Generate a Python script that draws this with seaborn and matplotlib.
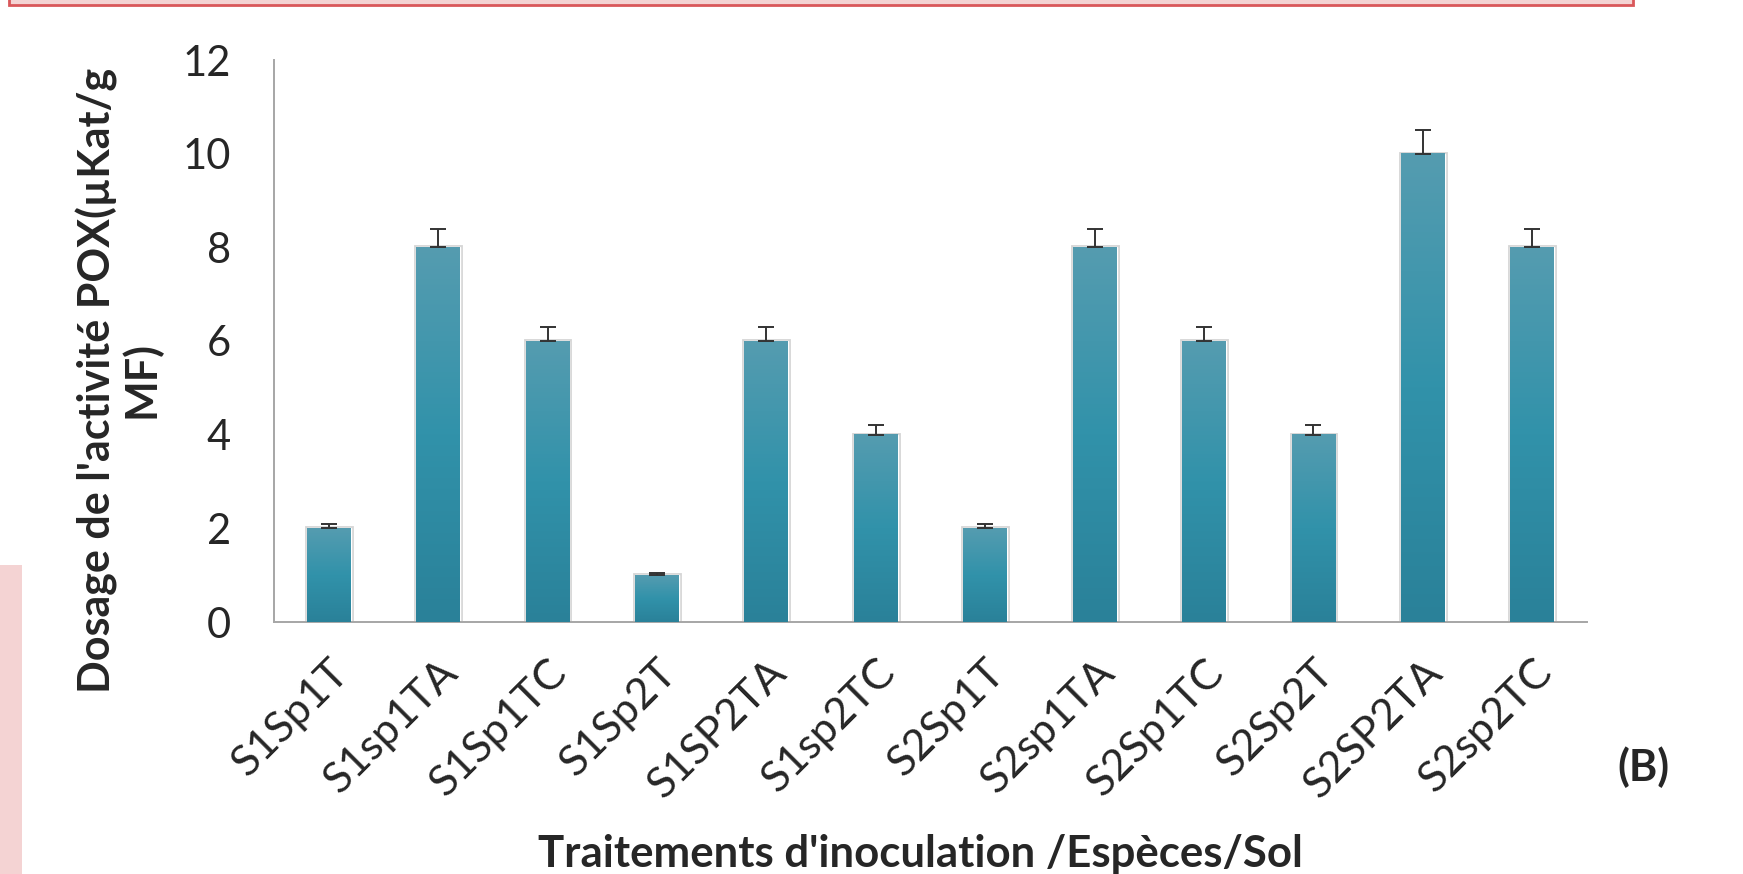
import numpy as np
import pandas as pd
import matplotlib
matplotlib.use('Agg')
import matplotlib.pyplot as plt
import seaborn as sns
from matplotlib.colors import LinearSegmentedColormap
from matplotlib.patches import Rectangle
import matplotlib.patheffects as pe

# données
categories = ['S1Sp1T', 'S1sp1TA', 'S1Sp1TC', 'S1Sp2T', 'S1SP2TA', 'S1sp2TC',
              'S2Sp1T', 'S2sp1TA', 'S2Sp1TC', 'S2Sp2T', 'S2SP2TA', 'S2sp2TC']
pox = [2, 8, 6, 1, 6, 4, 2, 8, 6, 4, 10, 8]
pox_err = [0.1, 0.4, 0.3, 0.05, 0.3, 0.2, 0.1, 0.4, 0.3, 0.2, 0.5, 0.4]
y_ticks = [0, 2, 4, 6, 8, 10, 12]

df = pd.DataFrame({'traitement': categories, 'pox': pox, 'err': pox_err})

sns.set_style('white')
plt.rcParams['font.family'] = ['Lato', 'DejaVu Sans']

fig = plt.figure(figsize=(17.43, 8.74), dpi=100)
ax = fig.add_axes([274 / 1743, 1 - 622 / 874, 1313 / 1743, 562 / 874])

sns.barplot(data=df, x='traitement', y='pox', color='#3192aa', width=0.40,
            errorbar=None, ax=ax, zorder=2)

# dégradé vertical façon Excel + ombre légère
cmap = LinearSegmentedColormap.from_list('bar', ['#2a8199', '#3192aa', '#559cb0'])
grad = np.linspace(0, 1, 256).reshape(-1, 1)
for p in ax.patches:
    x0, w, h = p.get_x(), p.get_width(), p.get_height()
    p.set_path_effects([pe.Stroke(linewidth=3.5, foreground='#7a7a7a', alpha=0.3), pe.Normal()])
    ax.imshow(grad, cmap=cmap, origin='lower', aspect='auto',
              extent=(x0, x0 + w, 0, h), zorder=3)

ax.errorbar(np.arange(len(pox)), df['pox'], yerr=[np.zeros(len(pox)), df['err']],
            fmt='none', ecolor='#333333', elinewidth=1.4, capsize=6, capthick=1.4, zorder=4)

ax.set_xlim(-0.5, len(categories) - 0.5)
ax.set_ylim(0, 12)
ax.set_yticks(y_ticks)
ax.set_xticks(np.arange(len(categories) + 1) - 0.5, minor=False)
ax.set_xticklabels([])
ax.set_xticks(np.arange(len(categories)), minor=True)
ax.set_xticklabels(categories, minor=True, rotation=45, ha='right', va='top',
                   rotation_mode='anchor', fontsize=31)
ax.tick_params(axis='x', which='minor', length=0, pad=22)
ax.tick_params(axis='x', which='major', length=15, width=1.4, color='#a6a6a6', direction='out')
ax.tick_params(axis='y', length=15, width=1.4, color='#a6a6a6', direction='out',
               labelsize=30, pad=16)
ax.set_xlabel('')
ax.set_ylabel('')
sns.despine(ax=ax)
for s in ['left', 'bottom']:
    ax.spines[s].set_color('#a6a6a6')
    ax.spines[s].set_linewidth(1.4)

fig.text(119 / 1743, 1 - 380 / 874, "Dosage de l'activité POX(µKat/g\nMF)",
         rotation=90, ha='center', va='center', multialignment='center',
         fontsize=31, fontweight='bold', linespacing=1.05)
fig.text(920 / 1743, 1 - 854 / 874, "Traitements d'inoculation /Espèces/Sol",
         ha='center', va='center', fontsize=31.5, fontweight='bold')
fig.text(1643 / 1743, 1 - 767 / 874, '(B)', ha='center', va='center',
         fontsize=31, fontweight='bold')

# éléments de la page autour du graphique
fig.patches.append(Rectangle((9 / 1743, 1 - 5 / 874), 1624 / 1743, 0.05, transform=fig.transFigure,
                             facecolor='#f4d3d3', edgecolor='#d9575a', linewidth=2))
fig.patches.append(Rectangle((0, 0), 22 / 1743, 1 - 565 / 874, transform=fig.transFigure,
                             facecolor='#f4d3d3', edgecolor='none'))

fig.savefig('out.png', dpi=100)
